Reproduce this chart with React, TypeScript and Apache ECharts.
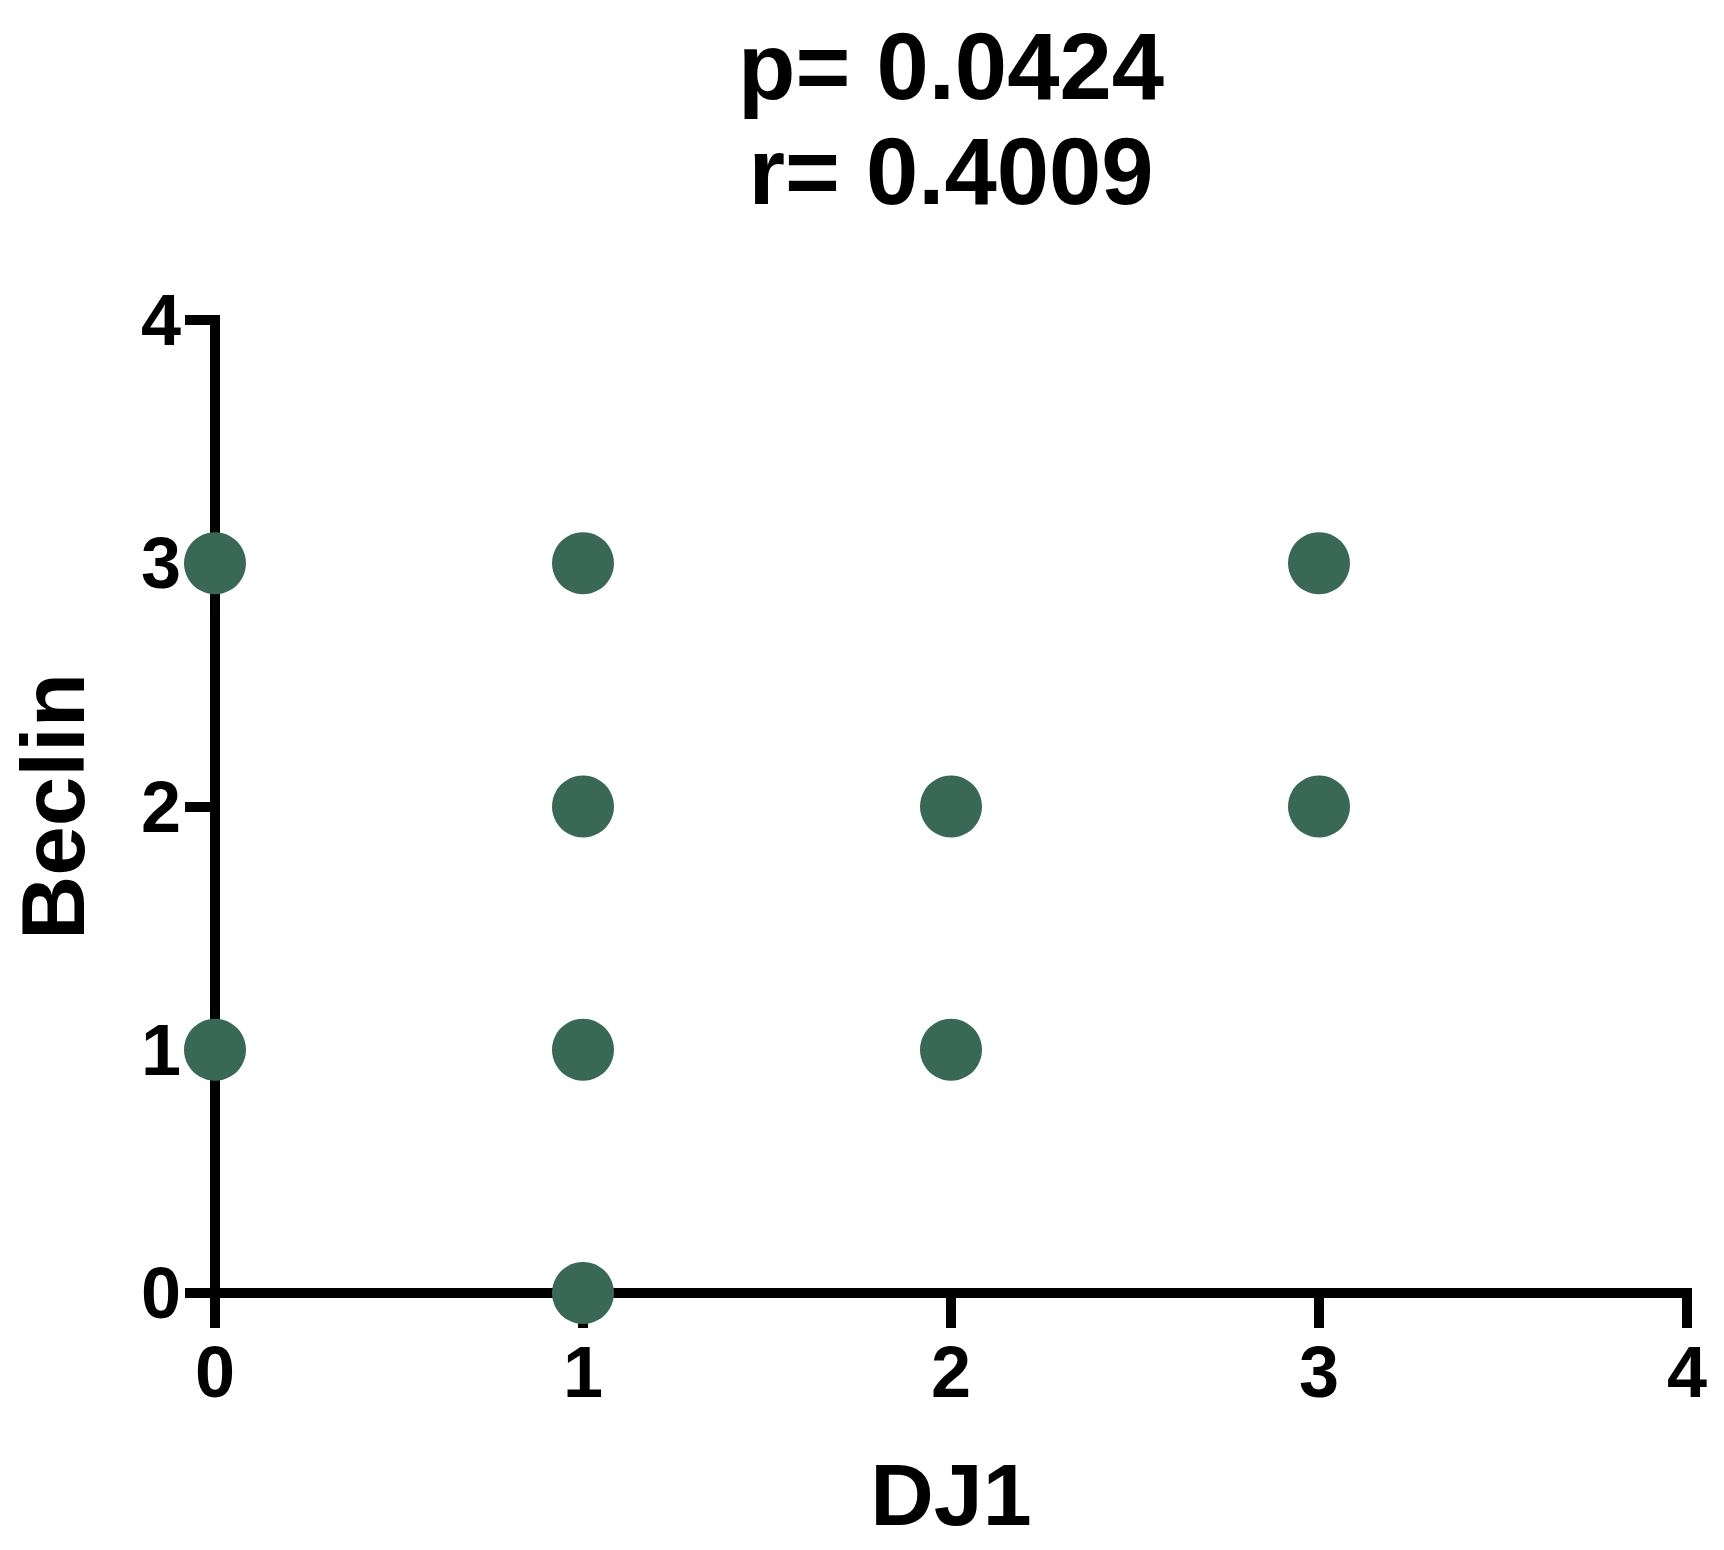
import React, { useEffect, useRef } from "react";
import * as echarts from "echarts";

const xValues = [0, 1, 3, 1, 2, 3, 0, 1, 2, 1];
const yValues = [3, 3, 3, 2, 2, 2, 1, 1, 1, 0];
const xTicks = ["0", "1", "2", "3", "4"];
const yTicks = ["0", "1", "2", "3", "4"];
const titleLines = ["p= 0.0424", "r= 0.4009"];
const xName = "DJ1";
const yName = "Beclin";

const FONT = '"Liberation Sans", Arial, Helvetica, sans-serif';

export default function App() {
  const ref = useRef<HTMLDivElement>(null);
  useEffect(() => {
    if (!ref.current) return;
    const chart = echarts.init(ref.current, null, { renderer: "svg" });
    const gridLeft = 215;
    const gridRight = 37;
    const gridTop = 320;
    const gridBottom = 257;
    const W = 1724;
    const centerX = (gridLeft + (W - gridRight)) / 2;
    const axisLine = {
      show: true,
      lineStyle: { color: "#000", width: 10, cap: "square" as const },
    };
    chart.setOption({
      animation: false,
      backgroundColor: "#fff",
      grid: { left: gridLeft, right: gridRight, top: gridTop, bottom: gridBottom },
      xAxis: {
        type: "value",
        min: 0,
        max: 4,
        interval: 1,
        axisLine,
        axisTick: { show: true, length: 35, lineStyle: { color: "#000", width: 10 } },
        splitLine: { show: false },
        axisLabel: {
          margin: 43,
          color: "#000",
          fontSize: 72,
          fontWeight: "bold",
          fontFamily: FONT,
          formatter: (v: number) => xTicks[v] ?? String(v),
        },
      },
      yAxis: {
        type: "value",
        min: 0,
        max: 4,
        interval: 1,
        axisLine,
        axisTick: { show: true, length: 30, lineStyle: { color: "#000", width: 10 } },
        splitLine: { show: false },
        axisLabel: {
          margin: 34,
          color: "#000",
          fontSize: 72,
          fontWeight: "bold",
          fontFamily: FONT,
          formatter: (v: number) => yTicks[v] ?? String(v),
        },
      },
      series: [
        {
          type: "scatter",
          symbol: "circle",
          symbolSize: 62,
          clip: false,
          itemStyle: { color: "#3a6856", opacity: 1 },
          data: xValues.map((x, i) => [x, yValues[i]]),
          z: 5,
        },
      ],
      graphic: [
        {
          type: "text",
          x: centerX,
          y: 66,
          style: {
            text: titleLines[0],
            align: "center",
            verticalAlign: "middle",
            fontSize: 94,
            fontWeight: "bold",
            fontFamily: FONT,
            fill: "#000",
          },
        },
        {
          type: "text",
          x: centerX,
          y: 171,
          style: {
            text: titleLines[1],
            align: "center",
            verticalAlign: "middle",
            fontSize: 94,
            fontWeight: "bold",
            fontFamily: FONT,
            fill: "#000",
          },
        },
        {
          type: "text",
          x: centerX,
          y: 1494,
          style: {
            text: xName,
            align: "center",
            verticalAlign: "middle",
            fontSize: 88,
            fontWeight: "bold",
            fontFamily: FONT,
            fill: "#000",
          },
        },
        {
          type: "text",
          x: 53,
          y: (gridTop + (1550 - gridBottom)) / 2,
          rotation: Math.PI / 2,
          style: {
            text: yName,
            align: "center",
            verticalAlign: "middle",
            fontSize: 89,
            fontWeight: "bold",
            fontFamily: FONT,
            fill: "#000",
          },
        },
      ],
    });
    return () => chart.dispose();
  }, []);
  return (
    <div
      ref={ref}
      style={{ position: "absolute", left: 0, top: 0, width: 1724, height: 1550, background: "#fff" }}
    />
  );
}
